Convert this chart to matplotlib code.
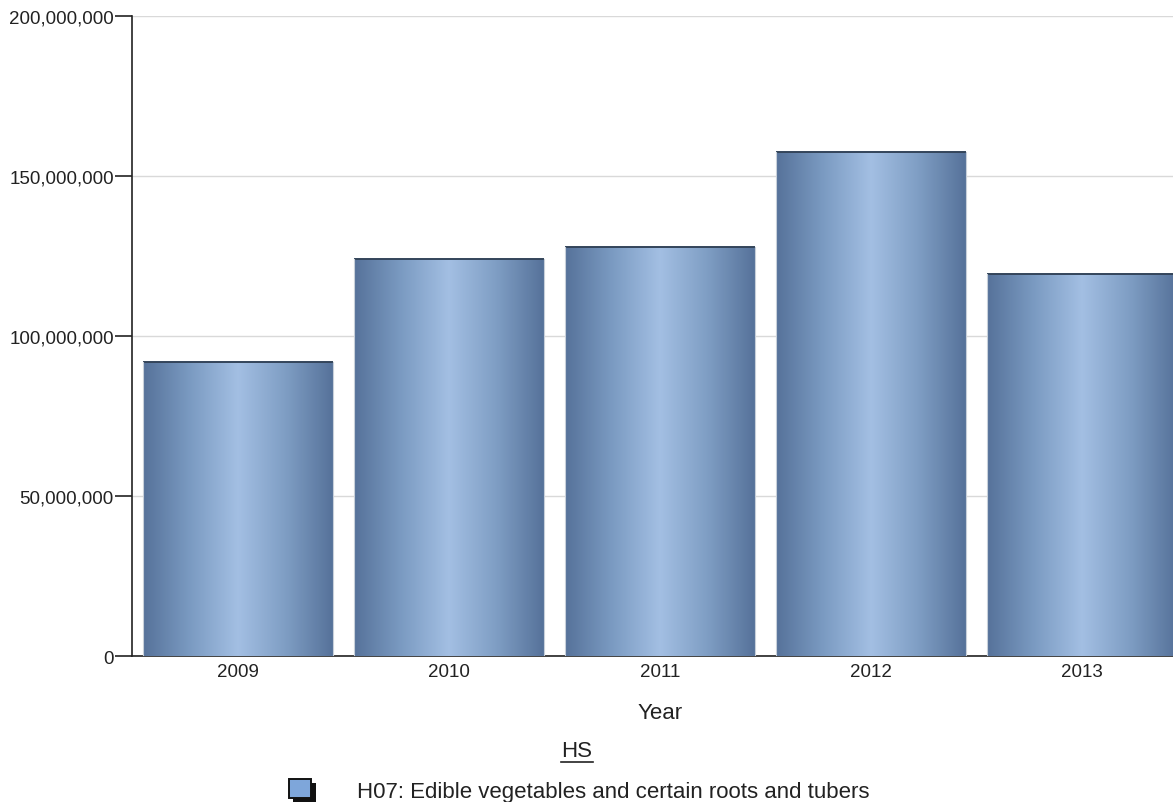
import numpy as np
import matplotlib
matplotlib.use("Agg")
import matplotlib.pyplot as plt
from matplotlib.colors import LinearSegmentedColormap
from matplotlib.patches import Rectangle
from matplotlib.ticker import FuncFormatter, MultipleLocator

years = ["2009", "2010", "2011", "2012", "2013"]
values = [91.9e6, 124.1e6, 127.8e6, 157.5e6, 119.4e6]
legend_label = "H07: Edible vegetables and certain roots and tubers"
x_title = "Year"
legend_title = "HS"

W, H = 1173, 803
fig = plt.figure(figsize=(W / 100, H / 100), dpi=100)
# axes: left 132px, right at figure edge (clipped), top 17px, bottom 657px
ax = fig.add_axes([132 / W, 1 - 657 / H, 1 - 132 / W, (657 - 17) / H])

xs = np.arange(len(years))
width = 0.9

cmap = LinearSegmentedColormap.from_list(
    "barg", ["#56729a", "#7b9bc2", "#a3bfe3", "#7f9ec4", "#56729a"])
grad = np.linspace(0, 1, 256).reshape(1, -1)

bars = ax.bar(xs, values, width=width, color="none", edgecolor="none", zorder=3)
for b in bars:
    x0, y0 = b.get_x(), b.get_y()
    w, h = b.get_width(), b.get_height()
    im = ax.imshow(grad, cmap=cmap, aspect="auto", extent=(x0, x0 + w, y0, y0 + h),
                   zorder=3, interpolation="bicubic")
    clip = Rectangle((x0, y0), w, h, transform=ax.transData)
    im.set_clip_path(clip)
    ax.plot([x0, x0 + w], [y0 + h, y0 + h], color="#33445a", lw=1.4, zorder=4,
            solid_capstyle="butt")
    ax.plot([x0, x0], [y0, y0 + h], color="#c8d0da", lw=0.8, zorder=4)
    ax.plot([x0 + w, x0 + w], [y0, y0 + h], color="#c8d0da", lw=0.8, zorder=4)

ax.set_aspect("auto")
ax.set_xlim(-0.5, (1173 - 238) / 211)
ax.set_ylim(0, 200e6)

ax.yaxis.set_major_locator(MultipleLocator(50e6))
ax.yaxis.set_major_formatter(FuncFormatter(lambda v, p: f"{int(v):,}"))
ax.grid(axis="y", color="#d9d9d9", lw=1.0, zorder=0)
ax.set_axisbelow(True)

fam = ["Liberation Sans", "DejaVu Sans"]
ax.set_xticks(xs)
ax.set_xticklabels(years)
ax.tick_params(axis="x", length=0, pad=5, labelsize=13.5, labelcolor="#222222")
ax.tick_params(axis="y", length=12, width=1.2, color="#222222", pad=1,
               labelsize=13.5, labelcolor="#222222")

for s in ["top", "right"]:
    ax.spines[s].set_visible(False)
for s in ["left", "bottom"]:
    ax.spines[s].set_color("#222222")
    ax.spines[s].set_linewidth(1.2)

for lab in ax.get_xticklabels() + ax.get_yticklabels():
    lab.set_family(fam)

fig.text(660 / W, 1 - 714 / H, x_title, ha="center", va="center", fontsize=16,
         family=fam, color="#222222")
fig.text(577 / W, 1 - 752 / H, legend_title, ha="center", va="center",
         fontsize=16, family=fam, color="#222222")
fig.add_artist(plt.Line2D([561 / W, 593 / W], [1 - 763 / H, 1 - 763 / H],
                          color="#222222", lw=1.2))

# legend marker with shadow
fig.add_artist(Rectangle((293 / W, 1 - 803 / H), 23 / W, 19 / H,
                         transform=fig.transFigure, facecolor="#111111",
                         edgecolor="none"))
fig.add_artist(Rectangle((289 / W, 1 - 799 / H), 22 / W, 19 / H,
                         transform=fig.transFigure, facecolor="#7ea6da",
                         edgecolor="#111111", lw=1.4))
fig.text(357 / W, 1 - 793 / H, legend_label, ha="left", va="center",
         fontsize=16, family=fam, color="#222222")

fig.savefig("out.png", dpi=100)
